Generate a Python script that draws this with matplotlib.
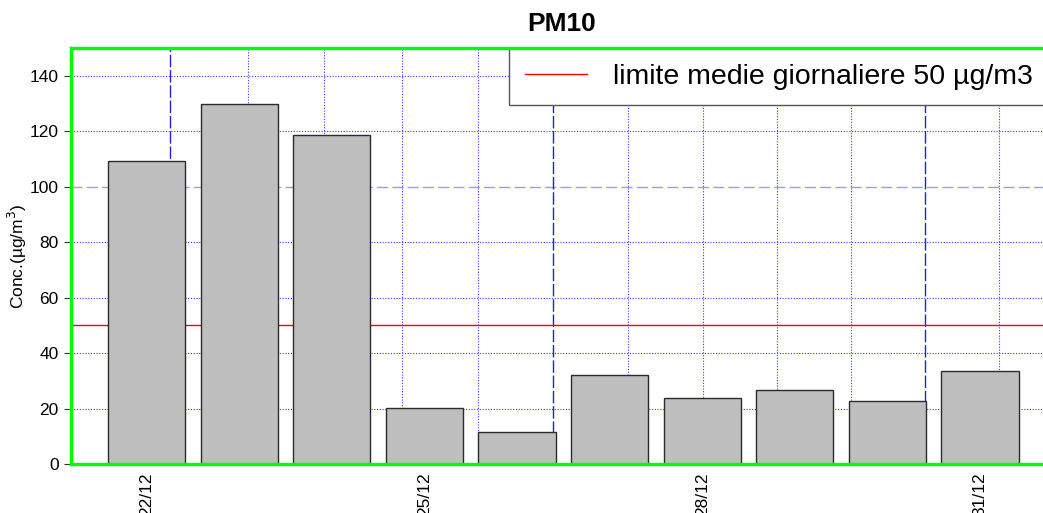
import matplotlib

matplotlib.use("Agg")
import matplotlib.pyplot as plt

plt.rcParams["font.family"] = ["Liberation Sans", "DejaVu Sans"]

# daily PM10 concentrations (ug/m3)
days = ["22/12", "23/12", "24/12", "25/12", "26/12", "27/12", "28/12", "29/12", "30/12", "31/12"]
pm10 = [109.1, 129.8, 118.6, 20.3, 11.5, 32.0, 23.8, 26.7, 22.7, 33.5]
label_every = 3
limit_value = 50
legend_label = "limite medie giornaliere 50 µg/m3"

y_ticks = [0, 20, 40, 60, 80, 100, 120, 140]
y_grid_dotted = [20, 40, 60, 80, 120, 140]
y_grid_dashed = [100]
x_grid_dotted = [2.01, 3.0, 4.01, 5.0, 6.94, 7.91, 8.87, 9.83, 11.75]
x_grid_dashed = [1.0, 5.97, 10.79]

# R barplot layout: width 1, space 0.2
centers = [0.7 + 1.2 * i for i in range(len(days))]

fig = plt.figure(figsize=(10.43, 5.13), dpi=100)
ax = fig.add_axes([71 / 1043, 49 / 513, 1000 / 1043, 416 / 513])

for y in y_grid_dotted:
    ax.axhline(y, color="#3b3bff", lw=0.8, ls=(0, (1, 1.5)), zorder=1)
for y in y_grid_dashed:
    ax.axhline(y, color="#9a9aff", lw=1.0, ls=(0, (8, 3)), zorder=1)
for x in x_grid_dotted:
    ax.axvline(x, color="#3b3bff", lw=0.8, ls=(0, (1, 1.5)), zorder=1)
for x in x_grid_dashed:
    ax.axvline(x, color="#2222dd", lw=1.0, ls=(0, (9, 2)), zorder=1)

ax.axhline(limit_value, color="red", lw=1.0, zorder=2, label=legend_label)

ax.bar(centers, pm10, width=1.0, color="#bebebe", edgecolor="#2b2b2b",
       linewidth=1.0, zorder=3)

ax.set_xlim(-0.28, 12.68)
ax.set_ylim(0, 150)
ax.set_yticks(y_ticks)
ax.set_xticks(centers[::label_every])
ax.set_xticklabels(days[::label_every], rotation=90, va="top")
ax.tick_params(axis="y", labelsize=12.5, length=5, width=0.8, color="#333333", pad=4)
ax.tick_params(axis="x", labelsize=12.5, length=0, pad=6)
ax.set_ylabel("Conc.(µg/m$^3$)", fontsize=12.5, labelpad=0)

for side in ["left", "top", "bottom"]:
    ax.spines[side].set_color("#00ff00")
    ax.spines[side].set_linewidth(2.4)
    ax.spines[side].set_zorder(5)
ax.spines["right"].set_visible(False)

leg = ax.legend(loc="upper left", bbox_to_anchor=(438 / 1000, 1.0),
                borderaxespad=0, fontsize=20.5, frameon=True, fancybox=False,
                framealpha=1, edgecolor="#555555", borderpad=0.55,
                handlelength=2.2, handletextpad=0.9)
leg.get_frame().set_linewidth(1.0)
leg.set_zorder(4)

fig.text(562 / 1043, 1 - 24 / 513, "PM10", fontsize=19, fontweight="bold",
         ha="center", va="center")

fig.savefig("out.png", dpi=100)
plt.close(fig)
